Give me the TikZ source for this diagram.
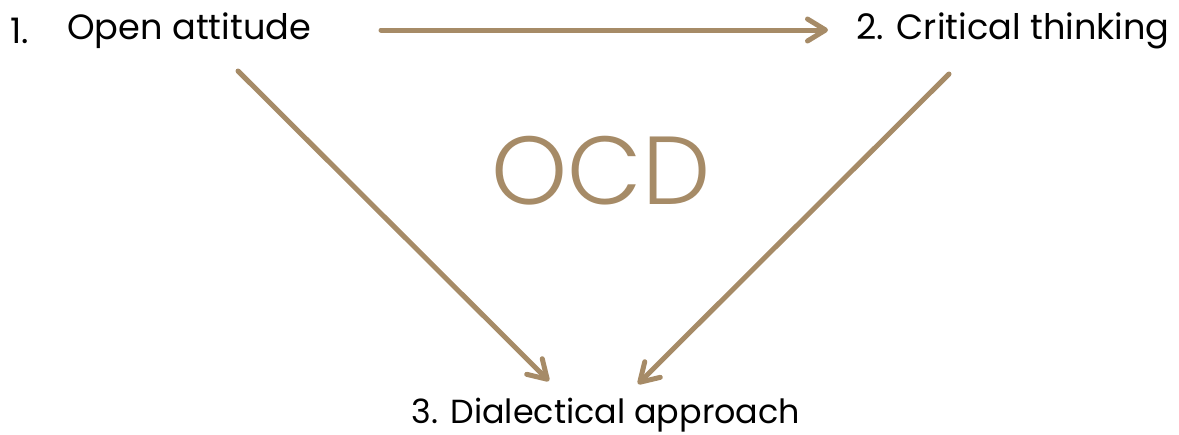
\documentclass[tikz,border=0pt]{standalone}
\usepackage{fontspec}
\setmainfont{Poppins}
\newfontfamily\ocdfont{Poppins}[UprightFont=* Light]
\usetikzlibrary{arrows.meta,positioning}
\definecolor{ocdtan}{RGB}{166,139,103}

\begin{document}
\begin{tikzpicture}[x=0.02cm,y=-0.02cm,
  every node/.style={inner sep=0pt,font=\fontsize{20}{24}\selectfont},
  link/.style={draw=ocdtan,line width=0.1cm,line cap=round,
    -{Straight Barb[length=0.36cm,width=0.44cm,line cap=round,line join=round]}}]
\useasboundingbox (0,0) rectangle (1179,434);
\node[anchor=west] (num) at (10,31) {1.};
\node[anchor=west] (open) at (67,31) {Open attitude};
\node[anchor=east] (critical) at (1170,31) {2. Critical thinking};
\node[font=\fontsize{19}{23}\selectfont] (dialect) at (606,415) {3. Dialectical approach};
\node[text=ocdtan,font=\ocdfont\fontsize{55}{60}\selectfont] (ocd) at (601,171) {OCD};
\coordinate (top-a) at (381,30);
\coordinate (top-b) at (828,30);
\coordinate (left-a) at (238,71);
\coordinate (left-b) at (549,381);
\coordinate (right-a) at (949,74);
\coordinate (right-b) at (638,384);
\draw[link] (top-a) -- (top-b);
\draw[link] (left-a) -- (left-b);
\draw[link] (right-a) -- (right-b);
\end{tikzpicture}
\end{document}
